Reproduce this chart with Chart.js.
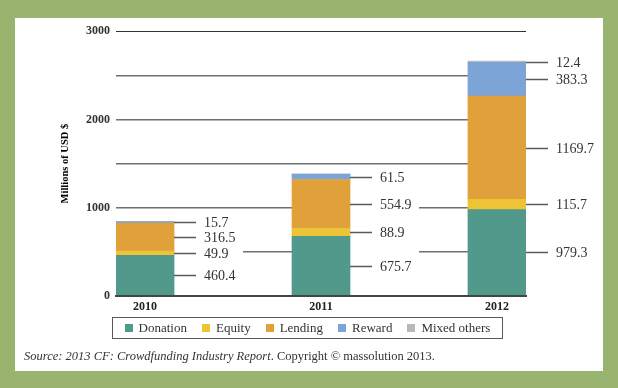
<!DOCTYPE html>
<html>
<head>
<meta charset="utf-8">
<script src="https://cdn.jsdelivr.net/npm/chart.js@4.4.1/dist/chart.umd.min.js"></script>
<style>
  body { margin: 0; background: #98b46f; width: 618px; height: 388px; overflow: hidden; position: relative; }
  #panel { position: absolute; left: 15px; top: 18px; width: 588px; height: 353px; background: #fff; }
  #chart { position: absolute; left: 15px; top: 18px; }
  #legend {
    position: absolute; left: 112px; top: 317px; width: 391px; height: 22px;
    box-sizing: border-box; border: 1.5px solid #5a5a5a;
    display: flex; align-items: center; justify-content: center; gap: 15px;
    font: 13px "Liberation Serif", serif; color: #333; white-space: nowrap;
  }
  #legend div { white-space: nowrap; }
  #legend span.sw { display: inline-block; width: 8px; height: 8px; margin-right: 6px; }
  #source {
    position: absolute; left: 24px; top: 349px;
    font: 12.5px "Liberation Serif", serif; color: #333; white-space: nowrap;
  }
</style>
</head>
<body>
<div id="panel"></div>
<canvas id="chart" width="588" height="353"></canvas>
<div id="legend"></div>
<div id="source"><i>Source: 2013 CF: Crowdfunding Industry Report</i>. Copyright © massolution 2013.</div>

<script>
// Data (millions of USD)
const years = ["2010", "2011", "2012"];
const donation = [460.4, 675.7, 979.3];
const equity = [49.9, 88.9, 115.7];
const lending = [316.5, 554.9, 1169.7];
const reward = [15.7, 61.5, 383.3];
const mixedOthers = [0, 0, 12.4];

const seriesNames = ["Donation", "Equity", "Lending", "Reward", "Mixed others"];
const seriesData = [donation, equity, lending, reward, mixedOthers];
const seriesColors = ["#519a8b", "#edc436", "#e0a13a", "#7ca4d6", "#b9b9b9"];

const datasets = seriesNames.map((name, i) => ({
  label: name,
  data: seriesData[i].map((v, j) => ({ x: j, y: v })),
  backgroundColor: seriesColors[i],
  borderWidth: 0,
  barThickness: 58,
}));

// White strip right of each bar hides the grid lines behind the labels
const labelBackdrop = {
  id: "labelBackdrop",
  beforeDatasetsDraw(chart) {
    const ctx = chart.ctx;
    const bottom = chart.chartArea.bottom;
    years.forEach((_, j) => {
      let top = bottom;
      let right = 0;
      chart.data.datasets.forEach((ds, i) => {
        const el = chart.getDatasetMeta(i).data[j];
        top = Math.min(top, el.y);
        right = el.x + el.width / 2;
      });
      ctx.save();
      ctx.fillStyle = "#fff";
      ctx.fillRect(right, top - 1, 69, bottom - top);
      ctx.restore();
    });
  },
};

// Leader lines and value labels
const valueLabels = {
  id: "valueLabels",
  afterDatasetsDraw(chart) {
    const ctx = chart.ctx;
    ctx.save();
    ctx.font = "14px 'Liberation Serif', serif";
    ctx.fillStyle = "#333";
    ctx.strokeStyle = "#5a5a5a";
    ctx.lineWidth = 1.5;
    ctx.textBaseline = "middle";
    chart.data.datasets.forEach((ds, i) => {
      chart.getDatasetMeta(i).data.forEach((el, j) => {
        const v = seriesData[i][j];
        if (!v) return;
        const x = el.x + el.width / 2;
        const y = Math.round((el.y + el.base) / 2) + 0.5;
        ctx.beginPath();
        ctx.moveTo(x, y);
        ctx.lineTo(x + 22, y);
        ctx.stroke();
        ctx.fillText(v.toFixed(1), x + 30, y + 1);
      });
    });
    ctx.restore();
  },
};

new Chart(document.getElementById("chart"), {
  type: "bar",
  data: { datasets },
  options: {
    responsive: false,
    animation: false,
    layout: { padding: { left: 0, right: 77, top: 13, bottom: 50 } },
    plugins: { legend: { display: false }, tooltip: { enabled: false } },
    scales: {
      x: {
        type: "linear",
        stacked: true,
        offset: false,
        min: -0.165,
        max: 2.165,
        afterBuildTicks: (s) => { s.ticks = years.map((_, j) => ({ value: j })); },
        afterFit: (s) => { s.height = 25; },
        grid: { display: false, drawTicks: false },
        border: { display: true, color: "#444", width: 2, z: 1 },
        ticks: {
          padding: 4,
          color: "#222",
          font: { family: "'Liberation Serif', serif", size: 12, weight: "bold" },
          callback: (v) => years[v],
        },
      },
      y: {
        stacked: true,
        min: 0,
        max: 3000,
        afterFit: (s) => { s.width = 101; },
        border: { display: false },
        grid: {
          drawTicks: false,
          color: (c) => c.tick.value === 0 ? "rgba(0,0,0,0)" : c.tick.value === 3000 ? "#333" : "#6f6f6f",
          lineWidth: (c) => c.tick.value === 3000 ? 1 : 1.6,
        },
        ticks: {
          stepSize: 500,
          padding: 6,
          color: "#333",
          font: { family: "'Liberation Serif', serif", size: 12, weight: "bold" },
          callback: (v) => v % 1000 === 0 ? v : "",
        },
        title: {
          display: true,
          text: "Millions of USD $",
          color: "#000",
          font: { family: "'Liberation Serif', serif", size: 10.5, weight: "bold" },
          padding: { top: 44, bottom: 0 },
        },
      },
    },
  },
  plugins: [labelBackdrop, valueLabels],
});

// Legend
const legend = document.getElementById("legend");
seriesNames.forEach((name, i) => {
  const item = document.createElement("div");
  item.innerHTML = `<span class="sw" style="background:${seriesColors[i]}"></span>${name}`;
  legend.appendChild(item);
});
</script>
</body>
</html>
